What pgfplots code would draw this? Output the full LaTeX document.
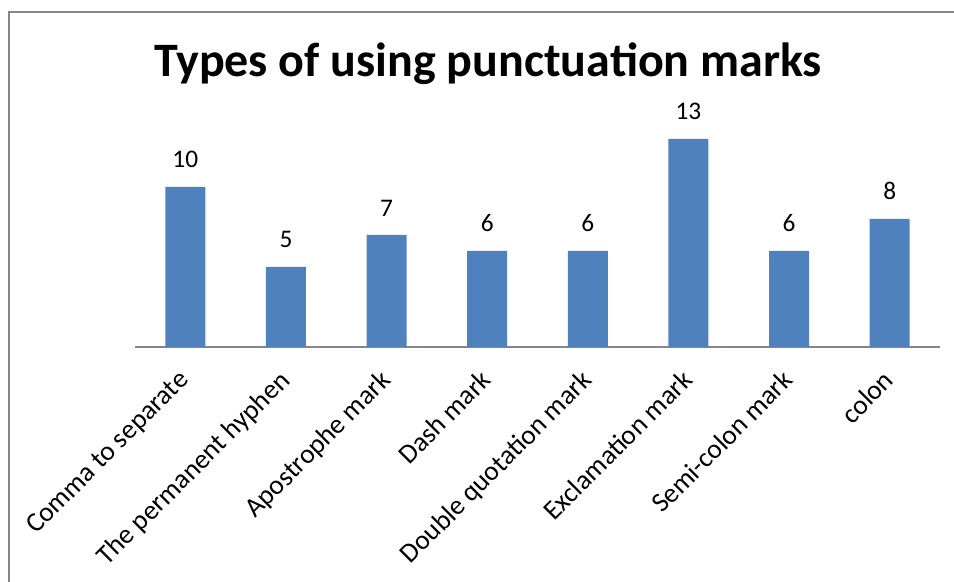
\documentclass[border=0pt]{standalone}
\usepackage{pgfplots}
\pgfplotsset{compat=1.18}
\usepackage{fontspec}
\setmainfont{Carlito}
\definecolor{barblue}{HTML}{4F81BD}
\definecolor{framegray}{HTML}{868686}
\begin{document}
\begin{tikzpicture}[x=0.75pt,y=0.75pt]
\path[use as bounding box] (0,0) rectangle (954,582);
\begin{scope}
\clip (0,0) rectangle (954,582);
\draw[framegray, line width=1pt] (9,-20) -- (9,570) -- (980,570);
\end{scope}
\node[anchor=base, font=\fontsize{36}{40}\selectfont\bfseries, inner sep=0pt] at (488,505) {Types of using punctuation marks};
\begin{axis}[
  at={(101.25pt,176.25pt)}, anchor=south west,
  scale only axis, width=603.75pt, height=168pt,
  ymin=0, ymax=14, xmin=-0.5, xmax=7.5,
  ybar, bar width=30pt,
  hide y axis,
  axis x line*=bottom,
  x axis line style={framegray, line width=1.5pt},
  xtick=data, major tick length=0pt,
  xticklabels={Comma to separate, The permanent hyphen, Apostrophe mark, Dash mark, Double quotation mark, Exclamation mark, Semi-colon mark, colon},
  xticklabel style={xshift=-6pt, yshift=-16pt, rotate=45, anchor=north east, inner sep=0pt, font=\fontsize{20.5}{24}\selectfont},
  /pgf/number format/assume math mode=true,
  nodes near coords,
  nodes near coords style={font=\fontsize{19}{22}\selectfont, anchor=south, inner sep=0pt, yshift=14pt, black},
  clip=false,
]
\addplot[fill=barblue, draw=none] coordinates {(0,10) (1,5) (2,7) (3,6) (4,6) (5,13) (6,6) (7,8)};
\end{axis}
\end{tikzpicture}
\end{document}
